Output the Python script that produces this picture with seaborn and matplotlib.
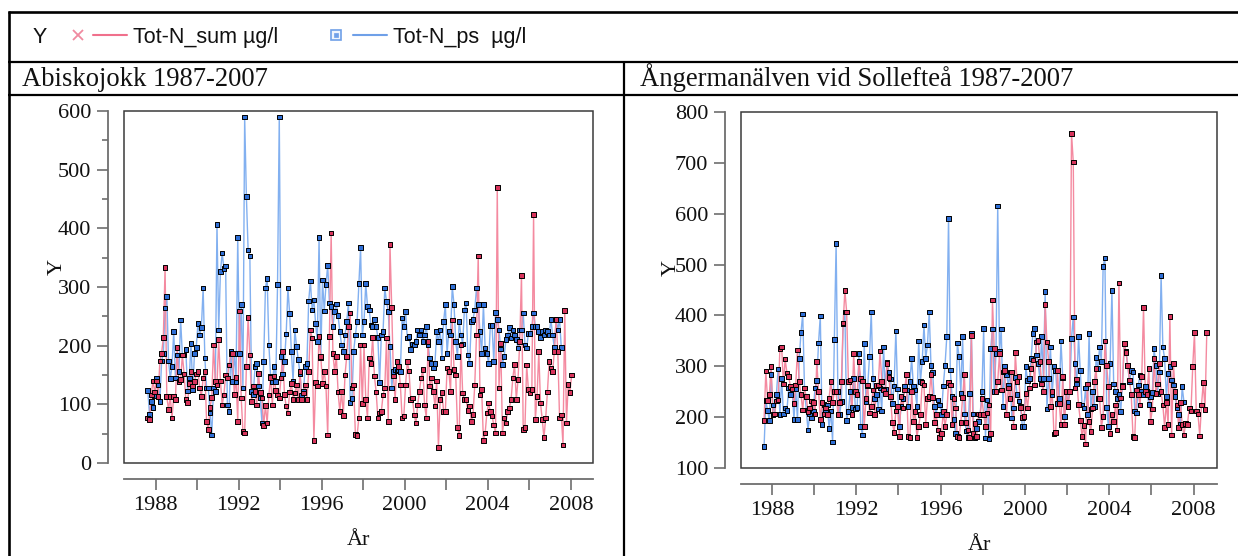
import numpy as np
import pandas as pd
import matplotlib
matplotlib.use("Agg")
import matplotlib.pyplot as plt
from matplotlib.patches import Rectangle
from matplotlib.ticker import MultipleLocator, NullLocator, StrMethodFormatter
import seaborn as sns

# Monthly samples, first month of every series
START_MONTH = "1987-08"

# Abiskojokk, Tot-N (µg/l), Aug 1987 -> Jan 2008
abisko_sum = [
    77, 74, 116, 140, 121,
    140, 113, 174, 187, 214, 333, 113, 91, 113, 77, 113, 108,
    197, 139, 142, 184, 152, 108, 103, 136, 156, 131, 139, 152,
    156, 128, 113, 145, 156, 71, 57, 95, 112, 201, 139, 133,
    210, 140, 99, 116, 150, 145, 167, 187, 187, 117, 146, 71,
    259, 111, 54, 51, 165, 248, 184, 105, 131, 122, 99, 153,
    120, 111, 64, 98, 68, 116, 146, 99, 148, 124, 116, 111,
    145, 190, 117, 97, 85, 121, 136, 108, 119, 133, 108, 156,
    108, 119, 133, 108, 156, 227, 213, 38, 137, 131, 216, 182,
    136, 156, 131, 48, 216, 392, 187, 156, 182, 121, 88, 122,
    81, 150, 182, 233, 256, 128, 133, 49, 47, 77, 201, 101,
    201, 108, 77, 179, 170, 214, 148, 121, 77, 85, 88, 116,
    128, 213, 71, 372, 265, 148, 108, 173, 165, 133, 77, 80,
    133, 173, 157, 108, 111, 82, 68, 99, 122, 145, 159, 99,
    77, 207, 131, 145, 122, 97, 140, 26, 108, 120, 88, 88,
    162, 156, 122, 244, 159, 150, 61, 47, 201, 119, 108, 108,
    89, 97, 71, 83, 133, 218, 353, 116, 125, 38, 51, 85,
    102, 88, 80, 65, 51, 470, 128, 204, 51, 77, 68, 88,
    94, 108, 145, 168, 108, 142, 207, 320, 57, 60, 167, 125,
    119, 125, 424, 74, 113, 190, 102, 74, 43, 77, 121, 173,
    162, 156, 190, 245, 190, 77, 82, 31, 260, 68, 134, 120,
    150,
]
# Abiskojokk, Tot-N (µg/l), Aug 1987 -> Jul 2007
abisko_ps = [
    124, 83, 105, 95, 114,
    144, 133, 105, 174, 187, 264, 284, 174, 144, 165, 224, 145,
    184, 156, 244, 184, 184, 193, 123, 145, 204, 125, 187, 197,
    238, 218, 231, 298, 179, 128, 128, 85, 48, 128, 122, 407,
    227, 326, 358, 332, 336, 99, 88, 190, 139, 187, 139, 384,
    187, 270, 128, 590, 454, 363, 353, 122, 117, 165, 170, 131,
    111, 68, 173, 298, 315, 201, 148, 139, 165, 139, 304, 590,
    182, 152, 173, 220, 298, 255, 190, 139, 227, 199, 176, 152,
    116, 122, 165, 170, 276, 310, 261, 278, 238, 207, 384, 179,
    312, 259, 304, 337, 273, 267, 233, 258, 271, 251, 224, 201,
    190, 218, 241, 273, 103, 110, 190, 218, 241, 306, 367, 218,
    241, 306, 267, 261, 235, 233, 245, 233, 214, 137, 218, 224,
    298, 275, 258, 199, 128, 156, 159, 157, 159, 156, 247, 233,
    258, 213, 216, 193, 203, 201, 207, 227, 218, 227, 207, 218,
    233, 201, 179, 170, 162, 170, 224, 207, 227, 179, 241, 270,
    187, 224, 218, 301, 270, 207, 182, 241, 218, 203, 261, 273,
    184, 170, 241, 245, 261, 298, 270, 224, 187, 270, 196, 187,
    170, 234, 234, 173, 257, 245, 227, 194, 168, 182, 210, 218,
    231, 213, 227, 218, 210, 196, 227, 227, 256, 201, 196, 221,
    221, 233, 256, 233, 233, 224, 214, 224, 218, 227, 224, 218,
    245, 218, 197, 245, 227, 245, 197,
]

# Ångermanälven vid Sollefteå, Tot-N (µg/l), Aug 1987 -> Aug 2008
anger_sum = [
    193, 291, 233, 244, 299,
    205, 206, 232, 234, 335, 338, 265, 314, 287, 280, 260, 255,
    227, 263, 332, 270, 244, 214, 257, 240, 211, 218, 232, 229,
    206, 309, 251, 195, 229, 206, 218, 205, 237, 270, 229, 251,
    251, 205, 229, 270, 385, 449, 407, 270, 273, 205, 325, 250,
    245, 309, 276, 271, 182, 237, 263, 208, 221, 253, 205, 262,
    263, 330, 270, 253, 247, 306, 278, 240, 189, 170, 212, 221,
    162, 240, 218, 253, 284, 162, 160, 251, 191, 211, 160, 182,
    205, 268, 263, 186, 237, 240, 284, 239, 190, 205, 175, 160,
    168, 211, 182, 205, 268, 263, 186, 237, 218, 162, 160, 190,
    239, 284, 190, 175, 160, 361, 168, 188, 162, 206, 205, 237,
    205, 182, 208, 224, 168, 430, 335, 250, 270, 325, 253, 289,
    292, 205, 257, 237, 289, 182, 327, 270, 280, 219, 199, 201,
    247, 218, 257, 296, 312, 263, 348, 351, 310, 265, 250, 421,
    348, 310, 221, 250, 167, 170, 292, 227, 185, 280, 185, 250,
    221, 250, 758, 702, 257, 275, 225, 193, 162, 184, 147, 265,
    191, 172, 218, 270, 296, 237, 237, 180, 201, 350, 302, 260,
    168, 205, 191, 224, 175, 464, 238, 260, 345, 327, 302, 273,
    244, 162, 160, 253, 244, 224, 280, 416, 250, 245, 296, 191,
    216, 315, 247, 265, 306, 250, 224, 180, 229, 185, 398, 165,
    306, 250, 224, 180, 229, 185, 165, 188, 186, 218, 212, 299,
    366, 212, 206, 163, 224, 268, 215, 366,
]
# Ångermanälven vid Sollefteå, Tot-N (µg/l), Aug 1987 -> Jul 2007
anger_ps = [
    142, 233, 213, 193, 284,
    224, 206, 244, 295, 205, 276, 206, 218, 213, 257, 244, 257,
    195, 255, 195, 315, 366, 403, 257, 214, 175, 206, 198, 212,
    257, 272, 346, 399, 186, 225, 212, 224, 178, 212, 151, 353,
    541, 251, 205, 231, 384, 407, 193, 211, 250, 219, 276, 216,
    219, 325, 182, 165, 345, 231, 261, 319, 407, 276, 237, 244,
    216, 257, 212, 338, 255, 307, 289, 275, 227, 261, 369, 255,
    182, 221, 237, 261, 253, 221, 270, 315, 261, 253, 221, 350,
    270, 309, 381, 315, 342, 407, 302, 288, 221, 205, 234, 224,
    205, 261, 302, 358, 591, 293, 240, 195, 168, 346, 319, 247,
    358, 206, 173, 160, 247, 364, 206, 160, 178, 191, 206, 250,
    374, 159, 234, 157, 335, 373, 250, 325, 615, 329, 373, 221,
    299, 284, 263, 289, 198, 218, 278, 244, 232, 221, 182, 182,
    299, 272, 276, 315, 364, 374, 322, 305, 276, 358, 276, 447,
    216, 276, 338, 244, 299, 292, 227, 237, 350, 278, 201, 250,
    229, 250, 355, 397, 306, 265, 358, 292, 224, 218, 257, 205,
    364, 216, 250, 221, 317, 296, 338, 310, 496, 513, 219, 182,
    306, 449, 265, 250, 237, 244, 211, 263, 345, 329, 302, 270,
    292, 289, 212, 208, 263, 283, 250, 245, 260, 250, 225, 240,
    248, 335, 302, 247, 289, 479, 338, 315, 240, 286, 299, 273,
    263, 240, 218, 205, 185, 260, 230,
]

SERIES_SUM = "Tot-N_sum µg/l"
SERIES_PS = "Tot-N_ps  µg/l"
TITLE_LEFT = "Abiskojokk 1987-2007"
TITLE_RIGHT = "Ångermanälven vid Sollefteå 1987-2007"
X_LABEL = "År"
Y_LABEL = "Y"


def decimal_years(n, start=START_MONTH):
    months = pd.period_range(start, periods=n, freq="M")
    return np.asarray(months.year + (months.month - 0.5) / 12.0, dtype=float)


def long_frame(sum_vals, ps_vals):
    parts = []
    for name, vals in ((SERIES_PS, ps_vals), (SERIES_SUM, sum_vals)):
        parts.append(pd.DataFrame({X_LABEL: decimal_years(len(vals)),
                                   Y_LABEL: vals, "serie": name}))
    return pd.concat(parts, ignore_index=True)


sns.set_theme(style="white")
plt.rcParams["font.family"] = ["Liberation Serif", "DejaVu Serif"]

W, H = 1238, 556
fig = plt.figure(figsize=(W / 100, H / 100), dpi=100)
fig.patch.set_facecolor("white")


def px_axes(x0, y0, x1, y1):
    return fig.add_axes([x0 / W, 1 - y1 / H, (x1 - x0) / W, (y1 - y0) / H])


LINE_PAL = {SERIES_SUM: "#f48aa0", SERIES_PS: "#82b0f0"}
MARK_PAL = {SERIES_SUM: "#d8345c", SERIES_PS: "#2f6fd6"}
AXIS_GREY = "#6e6e6e"


def draw_panel(ax, df, xlim, ylim, ymajor, yminor, xlab_y, ylab_xy):
    sns.lineplot(data=df, x=X_LABEL, y=Y_LABEL, hue="serie",
                 hue_order=[SERIES_PS, SERIES_SUM], palette=LINE_PAL,
                 estimator=None, sort=False, lw=1.0, legend=False, ax=ax)
    sns.scatterplot(data=df, x=X_LABEL, y=Y_LABEL, hue="serie",
                    hue_order=[SERIES_SUM, SERIES_PS], palette=MARK_PAL,
                    marker="s", s=11, edgecolor="black", linewidth=0.7,
                    legend=False, ax=ax, zorder=3)
    ax.set_xlim(*xlim)
    ax.set_ylim(*ylim)
    ax.set_facecolor("white")

    # data frame drawn as a box, axes lines pushed outwards
    for s in ("top", "right"):
        ax.spines[s].set_visible(False)
    for s in ("left", "bottom"):
        ax.spines[s].set_visible(True)
        ax.spines[s].set_position(("outward", 11.5))
        ax.spines[s].set_color(AXIS_GREY)
        ax.spines[s].set_linewidth(1.3)
    ax.add_patch(Rectangle((0, 0), 1, 1, transform=ax.transAxes, fill=False,
                           ec="#3a3a3a", lw=1.1, clip_on=False, zorder=5))

    ax.xaxis.set_major_locator(MultipleLocator(4))
    ax.xaxis.set_minor_locator(MultipleLocator(2))
    ax.xaxis.set_major_formatter(StrMethodFormatter("{x:.0f}"))
    ax.yaxis.set_major_locator(MultipleLocator(ymajor))
    if yminor:
        ax.yaxis.set_minor_locator(MultipleLocator(yminor))
    else:
        ax.yaxis.set_minor_locator(NullLocator())
    ax.yaxis.set_major_formatter(StrMethodFormatter("{x:.0f}"))

    ax.tick_params(which="both", direction="out", left=True, bottom=True,
                   color=AXIS_GREY, width=1.2, labelcolor="#111111")
    ax.tick_params(which="major", length=8, labelsize=16, pad=4)
    ax.tick_params(axis="y", which="minor", length=4.5)
    ax.tick_params(axis="x", which="minor", length=8)

    ax.set_xlabel(X_LABEL, fontsize=16, color="#111111")
    ax.set_ylabel(Y_LABEL, fontsize=16, color="#111111")
    ax.xaxis.set_label_coords(0.5, xlab_y)
    ax.xaxis.label.set_va("center")
    ax.yaxis.set_label_coords(*ylab_xy)
    ax.yaxis.label.set_va("center")


ax_left = px_axes(124, 111, 593, 463)
draw_panel(ax_left, long_frame(abisko_sum, abisko_ps),
           (1986.48, 2009.07), (0, 600), 100, 50,
           -0.219, (-0.143, 0.557))

ax_right = px_axes(741, 112, 1217, 468)
draw_panel(ax_right, long_frame(anger_sum, anger_ps),
           (1986.53, 2009.11), (100, 800), 100, None,
           -0.219, (-0.147, 0.562))

# page layout: borders, legend row and panel titles (pixel coordinates)
ov = fig.add_axes([0, 0, 1, 1])
ov.set_xlim(0, W)
ov.set_ylim(H, 0)
ov.axis("off")

ov.plot([8, W], [12, 12], color="black", lw=1.9, solid_capstyle="butt")
ov.plot([8, W], [62, 62], color="black", lw=1.6, solid_capstyle="butt")
ov.plot([8, W], [95, 95], color="black", lw=1.6, solid_capstyle="butt")
ov.plot([8.5, 8.5], [11, H], color="black", lw=1.9, solid_capstyle="butt")
ov.plot([624, 624], [62, H], color="black", lw=1.6, solid_capstyle="butt")

sans = ["Liberation Sans", "DejaVu Sans"]
LEG_BASE = 43
LEG_MID = 34.5
ov.text(33, LEG_BASE, Y_LABEL, fontsize=15.5, family=sans, va="baseline",
        color="#111111")
ov.plot([78], [LEG_MID], marker="x", color="#f08aa0", ms=6.5, mew=1.3)
ov.plot([93, 127], [LEG_MID, LEG_MID], color="#f0708c", lw=1.5)
ov.text(133, LEG_BASE, SERIES_SUM, fontsize=15.5, family=sans,
        va="baseline", color="#111111")
ov.plot([336], [LEG_MID], marker="s", ms=6.5, mfc="#eef4fd", mec="#6fa0e8",
        mew=1.2)
ov.plot([336], [LEG_MID], marker="s", ms=2.4, mfc="#6fa0e8", mec="#6fa0e8",
        mew=0.5)
ov.plot([353, 387], [LEG_MID, LEG_MID], color="#6fa0e8", lw=1.5)
ov.text(393, LEG_BASE, SERIES_PS, fontsize=15.5, family=sans,
        va="baseline", color="#111111")

ov.text(22, 86.5, TITLE_LEFT, fontsize=19.2, va="baseline", color="#111111")
ov.text(640, 86.5, TITLE_RIGHT, fontsize=19.2, va="baseline",
        color="#111111")

fig.savefig("out.png", dpi=100, facecolor="white")
